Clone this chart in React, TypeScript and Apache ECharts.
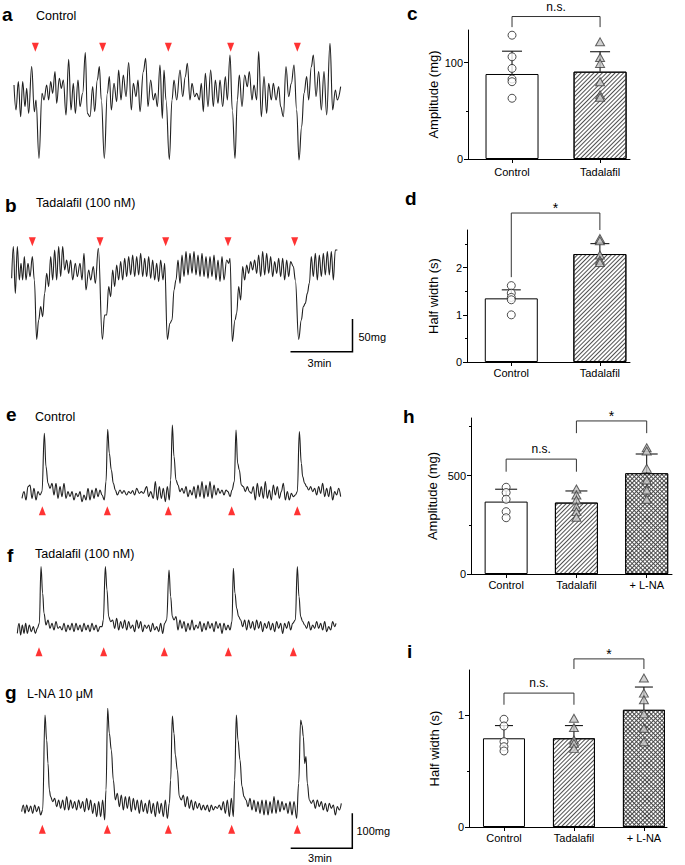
import React, { useEffect, useRef } from "react";
import * as echarts from "echarts";

const FONT = "'Liberation Sans', Arial, Helvetica, sans-serif";

// ---------- Tension traces: [time (s), tension relative to resting level (a.u.)] ----------
const traceA: number[][] = [
  [42,35],[48,-40],[55,45],[62,-60],[68,45],[75,-30],[80,25],[86,-50],[95,90],[103,-45],[108,-10],[117,-185],[126,10],[132,-10],[140,35],[146,-10],[152,45],[158,10],[165,75],[170,-20],[178,55],[184,25],[190,50],[198,-55],[206,112],[213,-40],[220,40],[226,-50],[234,50],[240,-30],[248,10],[256,132],[262,-50],[270,-60],[278,30],[284,-45],[292,50],[298,90],[304,-10],[313,-185],[322,10],[328,60],[334,-40],[342,40],[350,-15],[356,80],[363,-10],[370,65],[378,0],[386,102],[394,-40],[400,40],[408,0],[414,50],[420,-45],[430,75],[437,115],[444,-30],[452,50],[460,-10],[466,10],[472,-30],[480,95],[487,-65],[492,80],[498,-10],[508,-188],[516,-10],[522,50],[530,-10],[540,80],[548,0],[556,60],[562,100],[570,-10],[576,40],[584,0],[590,10],[598,-10],[604,40],[610,-45],[616,70],[624,-30],[632,80],[640,-30],[646,50],[654,-20],[660,50],[668,-30],[676,60],[682,-10],[690,125],[697,-40],[705,-185],[712,-10],[718,65],[726,-30],[734,65],[742,30],[748,75],[756,-10],[762,35],[770,-10],[776,135],[784,-60],[792,60],[800,-50],[806,40],[814,-10],[820,40],[828,-10],[836,30],[842,-30],[850,-60],[858,90],[866,0],[874,40],[882,95],[890,-40],[897,-190],[905,-90],[912,10],[920,60],[926,-10],[934,90],[940,125],[948,0],[956,75],[964,-40],[972,75],[980,-55],[990,160],[998,-40],[1006,20],[1012,-10],[1022,30]
];
const traceB: number[][] = [
  [35,-25],[40,70],[46,-70],[52,70],[58,-30],[63,20],[68,-30],[73,40],[78,-30],[84,20],[90,-20],[97,40],[103,-30],[110,-208],[116,-150],[122,-110],[128,-140],[134,-70],[140,-10],[146,-50],[152,40],[158,-30],[164,60],[170,-30],[176,70],[182,-20],[188,70],[194,0],[200,30],[206,-10],[212,30],[218,-30],[226,20],[232,-20],[240,20],[246,-30],[252,50],[258,-60],[266,0],[272,-30],[280,10],[286,-40],[295,65],[307,-208],[314,-135],[320,-135],[326,-50],[332,-80],[338,0],[344,-50],[350,15],[356,-30],[362,25],[368,-30],[374,35],[380,-20],[386,40],[392,-15],[398,45],[404,-20],[410,40],[416,-15],[422,50],[428,-20],[434,35],[440,-20],[446,40],[452,-25],[458,30],[464,-30],[470,20],[476,-35],[482,30],[489,-30],[494,20],[502,-208],[510,-160],[516,-150],[522,-60],[528,-30],[534,30],[540,-40],[546,45],[552,-20],[558,55],[564,-15],[570,50],[576,-10],[582,55],[588,-15],[594,45],[600,-20],[606,50],[612,-20],[618,40],[624,-25],[630,40],[636,-20],[642,45],[648,-30],[654,30],[660,-35],[666,40],[672,-30],[680,30],[686,20],[690,35],[697,-215],[705,-150],[710,-130],[716,-50],[722,-90],[728,10],[734,-30],[740,15],[746,-10],[752,25],[758,0],[764,30],[770,-10],[776,45],[782,-20],[788,55],[794,-15],[800,50],[806,-10],[812,40],[818,-20],[824,25],[830,-10],[836,35],[842,-20],[848,35],[854,-30],[860,30],[866,-20],[872,25],[880,10],[886,-30],[896,-208],[904,-150],[910,-110],[916,-100],[922,-70],[928,-40],[934,40],[940,-20],[946,50],[952,-30],[958,45],[964,-20],[970,50],[976,-15],[982,55],[988,-15],[994,55],[1000,-30],[1006,60],[1012,60]
];
const traceE: number[][] = [
  [66,-10],[72,10],[78,-15],[84,25],[90,30],[96,-10],[102,20],[108,-15],[114,10],[120,0],[126,10],[133,185],[138,85],[144,35],[150,20],[156,35],[162,0],[168,35],[174,-10],[180,25],[186,-5],[192,35],[198,-10],[204,10],[210,-5],[216,10],[222,-15],[228,5],[234,-5],[240,10],[246,-20],[252,0],[258,-15],[264,20],[270,-15],[276,15],[282,-10],[288,20],[294,-5],[300,15],[306,0],[313,-15],[318,40],[323,197],[328,125],[334,75],[340,35],[346,15],[352,0],[360,15],[366,5],[372,13],[380,0],[386,10],[392,5],[398,13],[404,0],[410,20],[418,5],[424,10],[430,5],[440,25],[446,-5],[452,10],[460,-10],[466,40],[472,-15],[478,25],[484,-10],[490,20],[496,-20],[502,25],[508,-15],[512,45],[517,210],[522,115],[528,45],[534,30],[540,10],[546,20],[552,5],[558,25],[564,-5],[570,15],[576,0],[582,25],[588,-10],[594,30],[600,-5],[606,40],[612,-10],[618,30],[624,-5],[630,40],[636,-10],[642,30],[648,0],[654,20],[660,5],[666,15],[672,0],[678,15],[684,10],[690,-5],[696,15],[703,40],[708,195],[713,95],[718,75],[724,30],[730,25],[736,10],[742,25],[748,10],[754,5],[760,25],[766,-15],[772,35],[778,-5],[784,25],[790,-10],[796,40],[802,-10],[808,15],[814,-15],[820,30],[826,0],[832,25],[838,-10],[844,10],[850,35],[856,-15],[862,10],[868,-15],[874,5],[880,-5],[886,0],[892,10],[898,190],[904,95],[908,55],[914,35],[920,25],[926,15],[932,25],[938,10],[944,20],[950,0],[956,25],[962,5],[968,35],[974,-5],[980,20],[986,-5],[992,25],[998,-15],[1004,10],[1010,0],[1016,20],[1022,-5]
];
const traceF: number[][] = [
  [52,-15],[57,15],[62,-20],[67,10],[72,-15],[77,15],[82,-15],[88,10],[94,-10],[100,5],[106,-15],[112,0],[118,15],[123,185],[128,105],[132,45],[138,10],[144,25],[150,0],[156,15],[162,-5],[168,20],[174,0],[180,5],[186,-5],[192,15],[198,-10],[204,10],[210,-5],[216,15],[222,-10],[228,15],[234,-5],[240,10],[246,-10],[252,15],[258,-5],[264,10],[270,-10],[276,15],[282,-5],[288,10],[294,-10],[300,5],[306,5],[310,25],[316,185],[321,115],[326,35],[332,20],[338,25],[344,0],[350,30],[356,-5],[362,20],[368,0],[374,25],[380,-5],[386,20],[392,0],[398,10],[404,-10],[410,25],[416,0],[422,20],[428,-10],[434,10],[440,0],[446,10],[452,-10],[458,15],[464,-5],[470,5],[476,-10],[482,15],[488,-15],[494,15],[500,25],[507,175],[512,95],[517,35],[522,25],[528,35],[534,-5],[540,25],[546,0],[552,20],[558,-10],[564,15],[570,-5],[576,25],[582,-5],[588,10],[594,0],[600,20],[606,-10],[612,15],[618,-5],[624,20],[630,0],[636,15],[642,-10],[648,20],[654,0],[660,15],[666,-15],[672,15],[678,-5],[684,10],[690,-5],[696,20],[700,180],[705,105],[710,60],[716,35],[722,25],[728,5],[734,25],[740,-5],[746,25],[752,0],[758,20],[764,-5],[770,25],[776,0],[782,20],[788,-10],[794,15],[800,0],[806,20],[812,-5],[818,15],[824,-10],[830,20],[836,0],[842,15],[848,-15],[854,15],[860,0],[866,20],[872,-5],[878,15],[886,25],[892,185],[897,95],[902,35],[908,20],[914,10],[920,0],[926,20],[932,-5],[938,10],[944,0],[950,20],[956,0],[962,15],[968,-5],[974,20],[980,-10],[986,5],[992,-5],[998,20],[1004,5],[1008,15]
];
const traceG: number[][] = [
  [65,-5],[70,15],[75,-10],[80,15],[86,-5],[92,12],[98,-10],[104,15],[110,-5],[116,10],[122,-15],[128,0],[135,285],[140,210],[144,140],[148,60],[152,40],[158,25],[164,35],[170,10],[176,30],[182,5],[188,30],[194,0],[200,40],[206,0],[212,30],[218,5],[224,25],[230,0],[236,30],[242,5],[248,25],[254,-5],[260,35],[266,0],[272,30],[278,-10],[284,20],[290,-20],[296,25],[302,-20],[308,30],[314,-30],[318,60],[323,305],[328,230],[334,180],[340,90],[346,30],[352,50],[358,10],[364,45],[370,0],[376,40],[382,5],[388,40],[394,-5],[400,35],[406,0],[412,30],[418,-10],[424,30],[430,-5],[436,20],[442,-10],[448,30],[454,-10],[460,20],[466,-20],[472,25],[478,-10],[484,20],[490,-20],[496,30],[502,-25],[508,20],[512,90],[517,282],[522,230],[526,165],[532,120],[538,40],[544,30],[550,45],[556,10],[562,40],[568,5],[574,30],[580,0],[586,25],[592,5],[598,20],[604,0],[610,15],[616,0],[622,15],[628,-5],[634,15],[640,0],[646,10],[652,5],[658,15],[664,0],[670,25],[676,-10],[682,30],[688,-20],[694,35],[700,-20],[704,90],[709,285],[714,210],[720,150],[726,70],[732,40],[738,30],[744,10],[750,35],[756,0],[762,30],[768,-5],[774,25],[780,-10],[786,30],[792,-15],[798,30],[804,-15],[810,25],[816,-10],[822,40],[828,-10],[834,30],[840,-5],[846,25],[852,0],[858,20],[864,-10],[870,25],[876,-15],[882,25],[890,-25],[896,80],[902,270],[906,255],[910,220],[914,140],[918,160],[922,80],[928,30],[934,20],[940,30],[946,5],[952,30],[958,10],[964,25],[970,0],[976,20],[982,-5],[988,20],[994,5],[1000,15],[1006,-15],[1012,10],[1018,0],[1024,20]
];

// contraction markers (time, s) and the level they are drawn at
const markA = [106, 308, 505, 692, 892];
const markB = [97, 300, 497, 684, 884];
const markE = [127, 322, 505, 695, 892];
const markF = [117, 311, 493, 685, 880];
const markG = [127, 322, 505, 695, 892];
const markLevelA = 148, markLevelB = 85, markLevelE = -47, markLevelF = -70, markLevelG = -58;

// ---------- Bar panels ----------
const catsTwo = ["Control", "Tadalafil"];
const catsThree = ["Control", "Tadalafil", "+ L-NA"];

// c: amplitude (mg)
const cMean = [88.3, 90.7];
const cSdTop = [112, 111.4];
const cControl = [128.6, 106.2, 94.1, 83.1, 80.3, 63.1];
const cTadalafil = [121.7, 105.5, 99.3, 80.3, 66.6, 64.1];
// d: half width (s)
const dMean = [1.35, 2.29];
const dSdTop = [1.53, 2.51];
const dControl = [1.62, 1.46, 1.37, 1.32, 1.0];
const dTadalafil = [2.62, 2.57, 2.27, 2.16, 2.11];
// h: amplitude (mg)
const hMean = [368, 363, 512];
const hSdTop = [431, 422, 610];
const hControl = [441, 414, 380, 317, 286];
const hTadalafil = [432, 402, 376, 342, 317, 288];
const hLNA = [642, 625, 537, 478, 427, 380];
// i: half width (s)
const iMean = [0.791, 0.791, 1.045];
const iSdTop = [0.904, 0.904, 1.248];
const iControl = [0.961, 0.901, 0.761, 0.716, 0.678];
const iTadalafil = [0.97, 0.887, 0.776, 0.746, 0.701];
const iLNA = [1.328, 1.194, 1.134, 1.009, 0.881, 0.761];

// significance brackets: [from, to, top, left end, right end]
const cBrackets = [[1, 2, 148, 137, 137]];
const cBracketText = ["n.s."];
const dBrackets = [[1, 2, 3.16, 1.8, 2.8]];
const dBracketText = ["*"];
const hBrackets = [[1, 2, 584, 520, 520], [2, 3, 778, 716, 716]];
const hBracketText = ["n.s.", "*"];
const iBrackets = [[1, 2, 1.194, 1.09, 1.09], [2, 3, 1.499, 1.409, 1.409]];
const iBracketText = ["n.s.", "*"];

const hatch = { symbol: "rect", symbolSize: 1, dashArrayX: [1, 0], dashArrayY: [1, 2], rotation: -Math.PI / 4, color: "#505050" };
const cross = { symbol: "rect", symbolSize: 1, dashArrayX: [2, 1], dashArrayY: [2, 1], rotation: Math.PI / 4, color: "#fff" };
const barStyles: any[] = [
  { color: "#fff", borderColor: "#000", borderWidth: 1 },
  { color: "#fff", borderColor: "#000", borderWidth: 1, decal: hatch },
  { color: "#4a4a4a", borderColor: "#000", borderWidth: 1, decal: cross },
];

function buildOption() {
  const grid: any[] = [];
  const xAxis: any[] = [];
  const yAxis: any[] = [];
  const series: any[] = [];

  const addTrace = (data: number[][], marks: number[], level: number, down: boolean, top: number, height: number, yMin: number, yMax: number) => {
    const gi = grid.length;
    grid.push({ left: 0, top, width: 360, height });
    xAxis.push({ type: "value", gridIndex: gi, min: 0, max: 1080, show: false });
    const yi = yAxis.length;
    yAxis.push({ type: "value", gridIndex: gi, min: yMin, max: yMax, show: false });
    series.push({
      type: "line", xAxisIndex: gi, yAxisIndex: yi, data, showSymbol: false, smooth: 0.4, smoothMonotone: "x", silent: true,
      lineStyle: { color: "#202020", width: 1.1 }, clip: false,
    });
    series.push({
      type: "scatter", xAxisIndex: gi, yAxisIndex: yi, data: marks.map((t) => [t, level]), silent: true,
      symbol: "triangle", symbolSize: [7, 9], symbolRotate: down ? 180 : 0, itemStyle: { color: "#ff0000" },
    });
  };

  addTrace(traceA, markA, markLevelA, true, 0, 180, -250, 290);
  addTrace(traceB, markB, markLevelB, true, 180, 200, -330, 270);
  addTrace(traceE, markE, markLevelE, false, 420, 240, -495, 225);
  addTrace(traceF, markF, markLevelF, false, 420, 240, -95, 625);
  addTrace(traceG, markG, markLevelG, false, 640, 225, -165, 510);

  const addBars = (p: any) => {
    const gi = grid.length;
    grid.push({ left: p.left, top: p.top, width: p.width, height: p.height });
    const xi = xAxis.length;
    const cats: string[] = p.cats;
    const idx = cats.map((_, k) => k + 1);
    xAxis.push({
      type: "value", gridIndex: gi, min: 0.5, max: p.xMax, splitLine: { show: false },
      axisLine: { show: true, onZero: false, lineStyle: { color: "#000", width: 1 } },
      axisTick: { show: true, customValues: idx, length: 4, lineStyle: { color: "#000" } },
      axisLabel: { customValues: idx, formatter: (v: number) => cats[Math.round(v) - 1] || "", fontSize: 11, color: "#000", fontFamily: FONT, margin: p.xMargin },
    });
    const yi = yAxis.length;
    yAxis.push({
      type: "value", gridIndex: gi, min: 0, max: p.yMax, splitLine: { show: false },
      axisLine: { show: true, onZero: false, lineStyle: { color: "#000", width: 1 } },
      axisTick: { show: true, customValues: p.major, length: 4, lineStyle: { color: "#000" } },
      axisLabel: { customValues: p.major, fontSize: 11, color: "#000", fontFamily: FONT, margin: 5 },
      name: p.yName, nameLocation: "middle", nameRotate: 90, nameGap: p.nameGap,
      nameTextStyle: { fontSize: 13, color: "#000", fontFamily: FONT },
    });
    yAxis.push({
      type: "value", gridIndex: gi, min: 0, max: p.yMax, position: "left", splitLine: { show: false },
      axisLine: { show: false }, axisLabel: { show: false },
      axisTick: { show: true, customValues: p.minor, length: 2, lineStyle: { color: "#000" } },
    });
    series.push({
      type: "bar", xAxisIndex: xi, yAxisIndex: yi, barWidth: p.barWidth, silent: true,
      data: p.mean.map((m: number, k: number) => ({ value: [k + 1, m], itemStyle: barStyles[k] })),
    });
    series.push({
      type: "custom", xAxisIndex: xi, yAxisIndex: yi, silent: true, clip: false,
      data: p.mean.map((m: number, k: number) => [k + 1, m, p.sdTop[k]]),
      renderItem: (params: any, api: any) => {
        const a = api.coord([api.value(0), api.value(1)]);
        const b = api.coord([api.value(0), api.value(2)]);
        const hw = p.cap;
        return {
          type: "group",
          children: [
            { type: "line", shape: { x1: a[0], y1: a[1], x2: b[0], y2: b[1] }, style: { stroke: "#000", lineWidth: 1 } },
            { type: "line", shape: { x1: b[0] - hw, y1: b[1], x2: b[0] + hw, y2: b[1] }, style: { stroke: "#000", lineWidth: 1 } },
          ],
        };
      },
    });
    p.groups.forEach((vals: number[], k: number) => {
      const circle = k === 0;
      series.push({
        type: "scatter", xAxisIndex: xi, yAxisIndex: yi, silent: true,
        data: vals.map((v) => [k + 1, v]),
        symbol: circle ? "circle" : "triangle", symbolSize: circle ? 8 : [9, 8],
        itemStyle: circle ? { color: "#fff", borderColor: "#222", borderWidth: 1 } : { color: "#c6c6c6", borderColor: "#3c3c3c", borderWidth: 1 },
      });
    });
    const labels: string[] = p.bracketText;
    series.push({
      type: "custom", xAxisIndex: xi, yAxisIndex: yi, silent: true, clip: false,
      data: p.brackets,
      renderItem: (params: any, api: any) => {
        const x1 = api.value(0), x2 = api.value(1), yt = api.value(2), yl = api.value(3), yr = api.value(4);
        const pl = api.coord([x1, yl]);
        const ptl = api.coord([x1, yt]);
        const ptr = api.coord([x2, yt]);
        const pr = api.coord([x2, yr]);
        const text = labels[params.dataIndex];
        const star = text === "*";
        return {
          type: "group",
          children: [
            { type: "polyline", shape: { points: [pl, ptl, ptr, pr] }, style: { stroke: "#333", lineWidth: 1, fill: null } },
            {
              type: "text", x: (ptl[0] + ptr[0]) / 2, y: ptl[1] - (star ? 5 : 10),
              style: { text, fill: "#000", fontSize: star ? 14 : 12, fontFamily: FONT, align: "center", verticalAlign: "middle" },
            },
          ],
        };
      },
    });
  };

  addBars({ left: 468, top: 30, width: 162, height: 129, xMax: 2.34, yMax: 134, major: [0, 100], minor: [50], cats: catsTwo,
    yName: "Amplitude (mg)", nameGap: 28, xMargin: 7, barWidth: 53, cap: 10, mean: cMean, sdTop: cSdTop,
    groups: [cControl, cTadalafil], brackets: cBrackets, bracketText: cBracketText });
  addBars({ left: 467, top: 230, width: 163, height: 132, xMax: 2.34, yMax: 2.8, major: [0, 1, 2], minor: [0.5, 1.5, 2.5], cats: catsTwo,
    yName: "Half width (s)", nameGap: 27, xMargin: 5, barWidth: 53, cap: 9.5, mean: dMean, sdTop: dSdTop,
    groups: [dControl, dTadalafil], brackets: dBrackets, bracketText: dBracketText });
  addBars({ left: 471, top: 418, width: 201, height: 156, xMax: 3.36, yMax: 793, major: [0, 500], minor: [250, 750], cats: catsThree,
    yName: "Amplitude (mg)", nameGap: 32, xMargin: 5, barWidth: 43, cap: 11, mean: hMean, sdTop: hSdTop,
    groups: [hControl, hTadalafil, hLNA], brackets: hBrackets, bracketText: hBracketText });
  addBars({ left: 469, top: 670, width: 198, height: 157, xMax: 3.33, yMax: 1.4, major: [0, 1], minor: [0.5], cats: catsThree,
    yName: "Half width (s)", nameGap: 28, xMargin: 5, barWidth: 42, cap: 9, mean: iMean, sdTop: iSdTop,
    groups: [iControl, iTadalafil, iLNA], brackets: iBrackets, bracketText: iBracketText });

  const txt = (text: string, x: number, y: number, size: number, bold = false, align = "left") => ({
    type: "text", x, y, silent: true,
    style: { text, fill: "#000", fontSize: size, fontWeight: bold ? "bold" : "normal", fontFamily: FONT, align, verticalAlign: "middle" },
  });
  const bar = (points: number[][]) => ({
    type: "polyline", silent: true, shape: { points }, style: { stroke: "#000", lineWidth: 1.5, fill: null },
  });

  const graphic = [
    txt("a", 2, 14.5, 19, true), txt("Control", 36, 15.5, 12.5),
    txt("b", 5, 205.5, 19, true), txt("Tadalafil (100 nM)", 36, 203, 12.5),
    txt("c", 407, 13.5, 19, true),
    txt("d", 405, 198.5, 19, true),
    txt("e", 6, 414.5, 19, true), txt("Control", 35, 416.5, 12.5),
    txt("f", 7, 555.5, 19, true), txt("Tadalafil (100 nM)", 35, 554, 12.5),
    txt("g", 5, 692.5, 19, true), txt("L-NA 10 μM", 27, 694, 12.5),
    txt("h", 403, 416.5, 19, true),
    txt("i", 407, 651.5, 19, true),
    bar([[352.5, 319], [352.5, 351.7], [290.5, 351.7]]),
    txt("50mg", 358.5, 336.5, 11), txt("3min", 319.5, 362.7, 11, false, "center"),
    bar([[352.3, 813.3], [352.3, 848.3], [290.7, 848.3]]),
    txt("100mg", 356.5, 830.5, 11), txt("3min", 320, 858, 11, false, "center"),
  ];

  return { animation: false, backgroundColor: "#fff", grid, xAxis, yAxis, series, graphic };
}

export default function App() {
  const ref = useRef<HTMLDivElement>(null);
  useEffect(() => {
    document.body.style.margin = "0";
    if (!ref.current) return;
    const chart = echarts.init(ref.current, undefined, { renderer: "svg" });
    chart.setOption(buildOption() as any);
    return () => chart.dispose();
  }, []);
  return <div ref={ref} style={{ width: 685, height: 865 }} />;
}
